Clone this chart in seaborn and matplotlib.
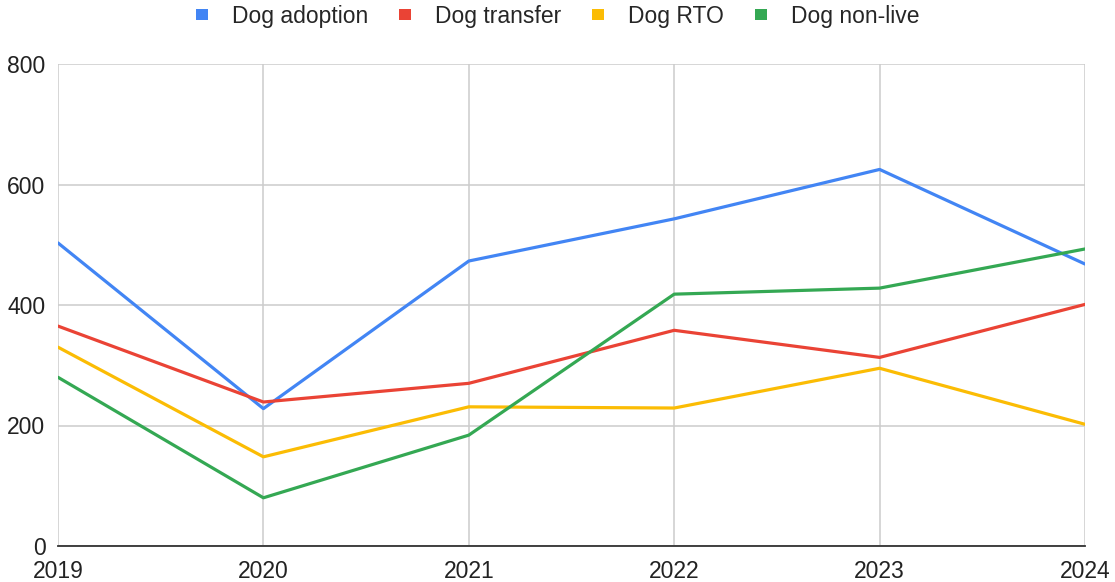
import numpy as np
import pandas as pd
import matplotlib
matplotlib.use("Agg")
import matplotlib.pyplot as plt
from matplotlib.patches import Patch
import seaborn as sns

years = [2019, 2020, 2021, 2022, 2023, 2024]
adoption = [503, 228, 473, 543, 625, 468]
transfer = [365, 239, 270, 358, 313, 401]
rto = [330, 148, 231, 229, 295, 202]
non_live = [280, 80, 184, 418, 428, 493]

series_names = ["Dog adoption", "Dog transfer", "Dog RTO", "Dog non-live"]
colors = ["#4285F4", "#EA4335", "#FBBC04", "#34A853"]

df = pd.DataFrame({
    "year": years * 4,
    "value": adoption + transfer + rto + non_live,
    "series": np.repeat(series_names, len(years)),
})

sns.set_style("white")
plt.rcParams["font.family"] = ["Liberation Sans", "DejaVu Sans"]

fig = plt.figure(figsize=(11.15, 5.82), dpi=100)
ax = fig.add_axes([58 / 1115, 1 - 546 / 582, (1085 - 58) / 1115, (546 - 64) / 582])

sns.lineplot(data=df, x="year", y="value", hue="series", palette=colors,
             hue_order=series_names, linewidth=2.3, ax=ax, legend=False)

ax.set_xlim(2019, 2024)
ax.set_ylim(0, 800)
ax.set_yticks([0, 200, 400, 600, 800])
ax.set_xticks(years)
ax.grid(True, color="#cccccc", linewidth=1.1)
ax.set_axisbelow(True)
for s in ["top", "right", "left"]:
    ax.spines[s].set_visible(False)
ax.spines["bottom"].set_color("#333333")
ax.spines["bottom"].set_linewidth(1.3)
ax.set_xlabel("")
ax.set_ylabel("")
ax.tick_params(axis="both", length=0, labelsize=16.5, colors="#222222")
ax.tick_params(axis="y", pad=9)
ax.tick_params(axis="x", pad=10)

handles = [Patch(facecolor=c, edgecolor="none") for c in colors]
fig.legend(handles, series_names, loc="center", bbox_to_anchor=(0.5, 1 - 16 / 582),
           ncol=4, frameon=False, fontsize=16.5, handlelength=0.52, handleheight=0.35,
           handletextpad=1.05, columnspacing=1.35)

fig.savefig("out.png", dpi=100)
